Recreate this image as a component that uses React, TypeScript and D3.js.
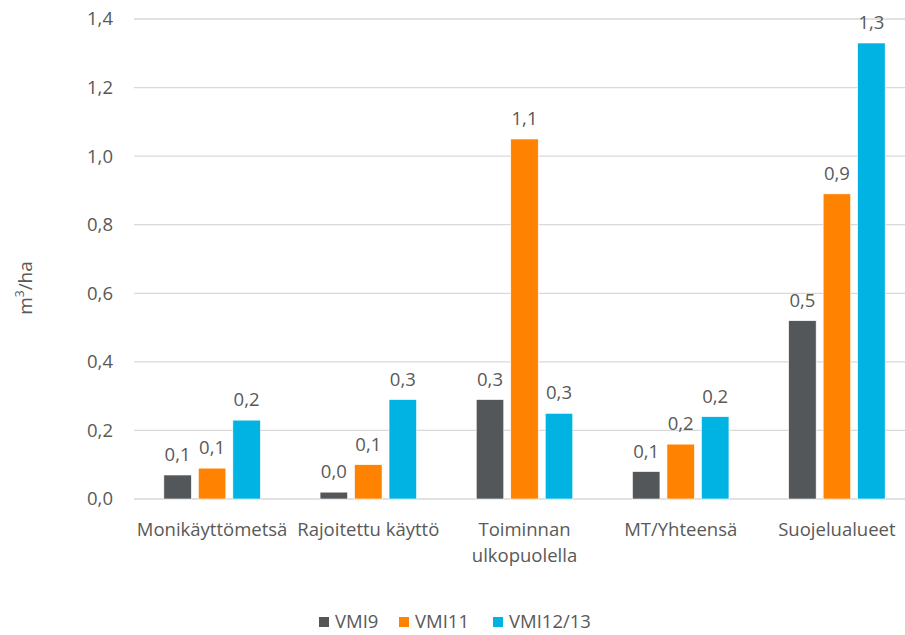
import React from "react";
import * as d3 from "d3";

const categories = [
  ["Monikäyttömetsä"],
  ["Rajoitettu käyttö"],
  ["Toiminnan", "ulkopuolella"],
  ["MT/Yhteensä"],
  ["Suojelualueet"],
];
const seriesNames = ["VMI9", "VMI11", "VMI12/13"];
const vmi9 = [0.07, 0.02, 0.29, 0.08, 0.52];
const vmi11 = [0.09, 0.1, 1.05, 0.16, 0.89];
const vmi1213 = [0.23, 0.29, 0.25, 0.24, 1.33];
const yTicks = [0, 0.2, 0.4, 0.6, 0.8, 1.0, 1.2, 1.4];
const colors = ["#53575A", "#FF8200", "#00B3E3"];

const W = 905;
const H = 635;
const FONT = "'Open Sans', 'Noto Sans', sans-serif";
const TEXT = "#595959";
const FS = 18.5;

export default function App() {
  const series = [vmi9, vmi11, vmi1213];
  const left = 134;
  const right = 915;
  const top = 19;
  const bottom = 499;

  const x = d3
    .scaleBand<number>()
    .domain(categories.map((_, i) => i))
    .range([left, right]);
  const y = d3.scaleLinear().domain([0, 1.4]).range([bottom, top]);
  const barW = 27.5;
  const step = 34.5;
  const fmt = (v: number) => v.toFixed(1).replace(".", ",");

  const legendX = [319, 399, 493];

  return (
    <svg
      width={W}
      height={H}
      style={{ position: "absolute", left: 0, top: 0, background: "#fff" }}
      fontFamily={FONT}
    >
      {yTicks.map((t) => (
        <g key={t}>
          <line x1={left} x2={right} y1={y(t)} y2={y(t)} stroke="#D9D9D9" strokeWidth={1.3} />
          <text x={113} y={y(t)} dy="0.35em" textAnchor="end" fontSize={FS} fill={TEXT}>
            {fmt(t)}
          </text>
        </g>
      ))}

      <text
        transform={`translate(32,${288}) rotate(-90)`}
        textAnchor="middle"
        fontSize={19}
        fill={TEXT}
      >
        m<tspan baselineShift="super" fontSize={12}>3</tspan>/ha
      </text>

      {categories.map((lines, i) => {
        const cx = (x(i) as number) + x.bandwidth() / 2;
        return (
          <g key={i}>
            {series.map((s, k) => {
              const bx = cx + (k - 1) * step - barW / 2;
              const v = s[i];
              return (
                <g key={k}>
                  <rect
                    x={bx}
                    y={y(v)}
                    width={barW}
                    height={y(0) - y(v)}
                    fill={colors[k]}
                    stroke="#fff"
                    strokeWidth={0.6}
                  />
                  <text
                    x={bx + barW / 2}
                    y={y(v) - 14}
                    textAnchor="middle"
                    fontSize={FS}
                    fill={TEXT}
                  >
                    {fmt(v)}
                  </text>
                </g>
              );
            })}
            {lines.map((ln, j) => (
              <text
                key={j}
                x={cx}
                y={536 + j * 25.5}
                textAnchor="middle"
                fontSize={FS}
                fill={TEXT}
              >
                {ln}
              </text>
            ))}
          </g>
        );
      })}

      {seriesNames.map((n, k) => (
        <g key={n}>
          <rect x={legendX[k]} y={617} width={10} height={10} fill={colors[k]} />
          <text x={legendX[k] + 16} y={622} dy="0.35em" fontSize={FS} fill={TEXT}>
            {n}
          </text>
        </g>
      ))}
    </svg>
  );
}
